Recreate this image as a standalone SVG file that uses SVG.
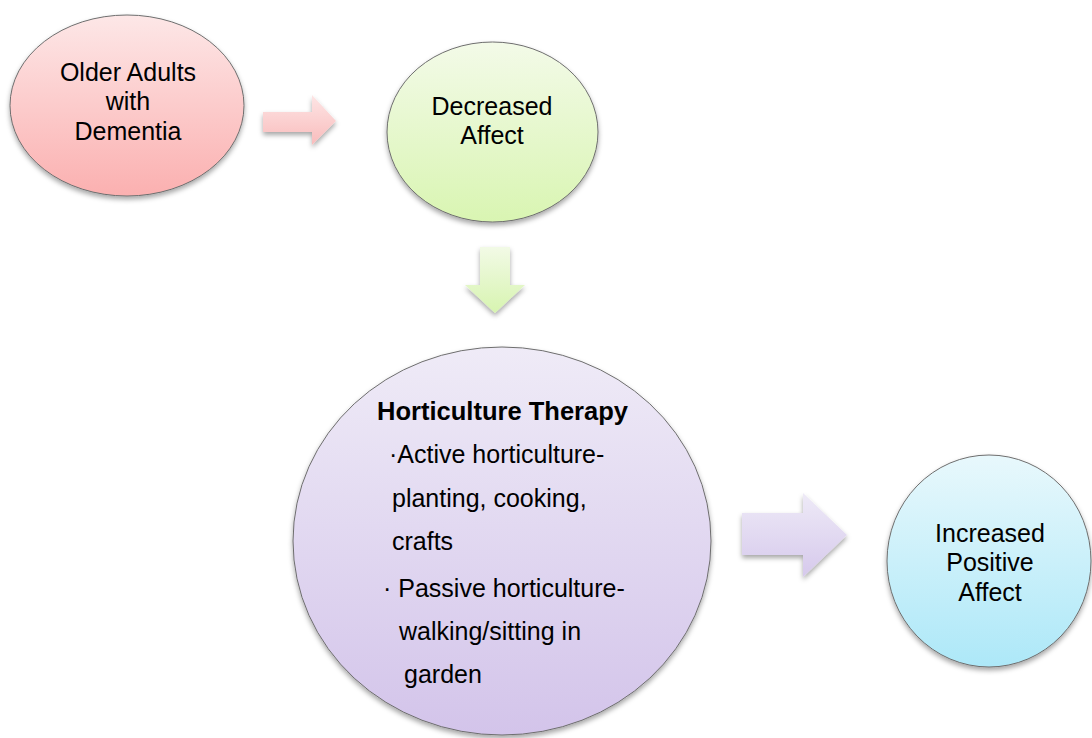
<svg xmlns="http://www.w3.org/2000/svg" width="1092" height="738" viewBox="0 0 1092 738">
<defs>
<linearGradient id="gPink" x1="0" y1="0" x2="0" y2="1"><stop offset="0" stop-color="#fde7e7"/><stop offset="1" stop-color="#fbb0b0"/></linearGradient>
<linearGradient id="gGreen" x1="0" y1="0" x2="0" y2="1"><stop offset="0" stop-color="#f3fae8"/><stop offset="1" stop-color="#d9f5b2"/></linearGradient>
<linearGradient id="gPurple" x1="0" y1="0" x2="0" y2="1"><stop offset="0" stop-color="#efebf7"/><stop offset="1" stop-color="#d3c4ea"/></linearGradient>
<linearGradient id="gBlue" x1="0" y1="0" x2="0" y2="1"><stop offset="0" stop-color="#e8f8fc"/><stop offset="1" stop-color="#ade8f8"/></linearGradient>
<linearGradient id="aPink" x1="0" y1="0" x2="0" y2="1"><stop offset="0" stop-color="#fde5e5"/><stop offset="1" stop-color="#f9bcbc"/></linearGradient>
<linearGradient id="aGreen" x1="0" y1="0" x2="0" y2="1"><stop offset="0" stop-color="#f2fae6"/><stop offset="1" stop-color="#d7f4b0"/></linearGradient>
<linearGradient id="aPurple" x1="0" y1="0" x2="0" y2="1"><stop offset="0" stop-color="#eeeaf7"/><stop offset="1" stop-color="#d6c9ec"/></linearGradient>
<filter id="sh" x="-20%" y="-20%" width="140%" height="150%"><feDropShadow dx="0" dy="3" stdDeviation="2.5" flood-color="#000" flood-opacity="0.35"/></filter>
</defs>
<style>
.node ellipse{stroke:#6e6e6e;stroke-width:1;filter:url(#sh)}
.t{font-family:"Liberation Sans",Arial,sans-serif;font-size:25px;fill:#000;text-anchor:middle}
.tl{font-family:"Liberation Sans",Arial,sans-serif;font-size:25px;fill:#000}
.b{font-weight:bold}
.arr{filter:url(#sh)}
</style>
<g id="connectors">
<path class="arr" fill="url(#aPink)" d="M263,112 H312 V95 L336,121 L312,145 V132 H263 Z"/>
<path class="arr" fill="url(#aGreen)" d="M480,247 H510 V285 H525 L495,313 L465,285 H480 Z"/>
<path class="arr" fill="url(#aPurple)" d="M742,513 H803 V493 L847,535 L803,577 V555 H742 Z"/>
</g>
<g id="node-older-adults" class="node">
<ellipse cx="127" cy="105.5" rx="117" ry="90.5" fill="url(#gPink)"/>
<text class="t" x="128" y="81">Older Adults</text>
<text class="t" x="128" y="110">with</text>
<text class="t" x="128" y="140">Dementia</text>
</g>
<g id="node-decreased-affect" class="node">
<ellipse cx="492.5" cy="132" rx="105.5" ry="90" fill="url(#gGreen)"/>
<text class="t" x="492" y="115">Decreased</text>
<text class="t" x="492" y="144">Affect</text>
</g>
<g id="node-horticulture" class="node">
<ellipse cx="502" cy="541" rx="209" ry="194" fill="url(#gPurple)"/>
<text class="tl b" x="377" y="420" textLength="251" lengthAdjust="spacingAndGlyphs">Horticulture Therapy</text>
<text class="tl" x="389" y="463">·Active horticulture-</text>
<text class="tl" x="392" y="507">planting, cooking,</text>
<text class="tl" x="392" y="550">crafts</text>
<text class="tl" x="383" y="597">· Passive horticulture-</text>
<text class="tl" x="399" y="640">walking/sitting in</text>
<text class="tl" x="404" y="683">garden</text>
</g>
<g id="node-increased" class="node">
<ellipse cx="989" cy="561" rx="102" ry="106" fill="url(#gBlue)"/>
<text class="t" x="990" y="542">Increased</text>
<text class="t" x="990" y="571">Positive</text>
<text class="t" x="990" y="601">Affect</text>
</g>
</svg>
